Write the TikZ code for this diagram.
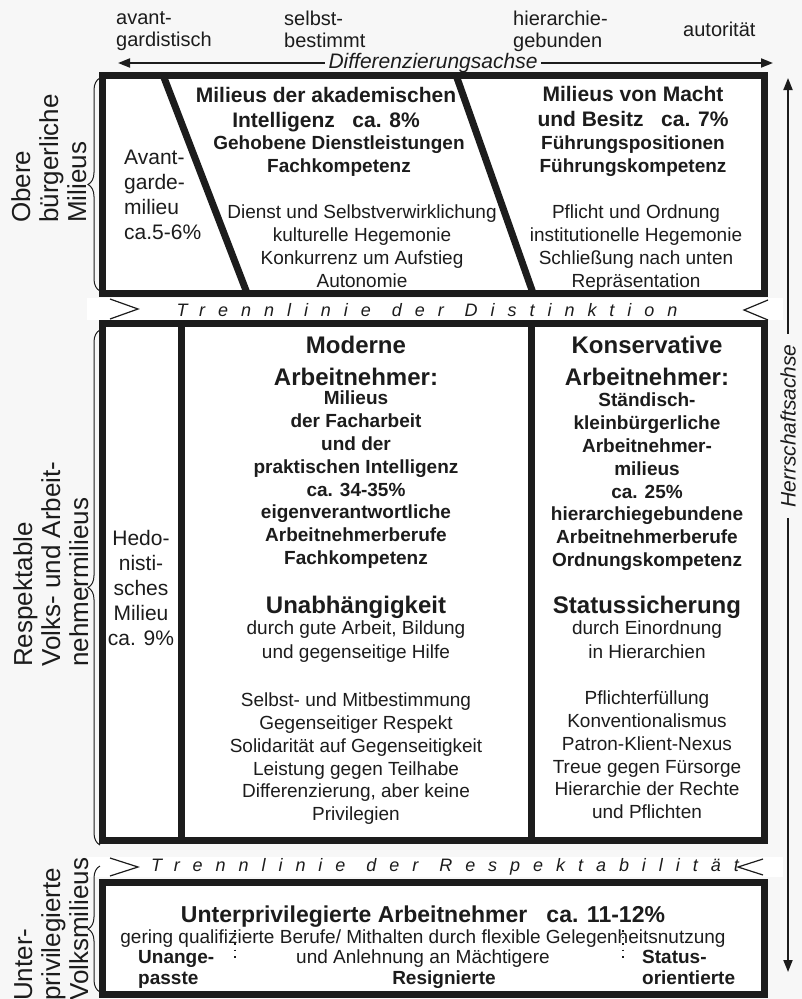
\documentclass[tikz,border=0pt]{standalone}
\usepackage{fontspec}
\setmainfont{Liberation Sans}
\newfontfamily\spacedfont[LetterSpace=72]{Liberation Sans}
\usetikzlibrary{arrows.meta,decorations.pathreplacing}

\definecolor{bggray}{RGB}{247,247,247}
\definecolor{ink}{RGB}{28,28,28}

\tikzset{
  frame/.style={draw=ink, line width=7pt, fill=white},
  divider/.style={draw=ink, line width=7pt},
  thinline/.style={draw=ink, line width=1.2pt},
  axis/.style={draw=ink, line width=1.8pt,
    {Triangle[length=12pt,width=9pt]}-{Triangle[length=12pt,width=9pt]}},
  milieubrace/.style={draw=ink, line width=1pt, decorate,
    decoration={brace, amplitude=12pt}},
  bodytext/.style={inner sep=0pt, align=center, anchor=north, text=ink,
    font=\fontsize{19}{22.7}\selectfont},
  subtext/.style={bodytext, font=\bfseries\fontsize{19}{22.8}\selectfont},
  titletext/.style={bodytext, font=\bfseries\fontsize{21}{25}\selectfont},
  bigtitle/.style={bodytext, font=\bfseries\fontsize{24}{32}\selectfont},
  toplabel/.style={inner sep=0pt, align=left, anchor=north west, text=ink,
    font=\fontsize{20}{22}\selectfont},
  sidelabel/.style={inner sep=0pt, align=left, anchor=north west, rotate=90,
    text=ink, font=\fontsize{26}{28}\selectfont},
  axislabel/.style={fill=bggray, inner ysep=1pt, inner xsep=4pt, text=ink,
    font=\itshape\fontsize{21}{21}\selectfont},
  bandtext/.style={inner sep=0pt, text=ink,
    font=\spacedfont\itshape\fontsize{18}{18}\selectfont},
}

\begin{document}
\begin{tikzpicture}[x=1pt, y=-1pt]
% page
\fill[bggray, use as bounding box] (0,0) rectangle (802,999);

% labels of the differentiation axis
\node[toplabel] (avant) at (116,11) {avant-\\gardistisch};
\node[toplabel] (selbst) at (284,11) {selbst-\\bestimmt};
\node[toplabel] (hierar) at (513,11) {hierarchie-\\gebunden};
\node[toplabel] (autor) at (683,22) {autorität};

% axes
\coordinate (dleft) at (118,63);
\coordinate (dright) at (773,63);
\draw[axis] (dleft) -- (dright);
\node[axislabel] (diff) at (433,63) {Differenzierungsachse};

\coordinate (htop) at (788,78);
\coordinate (hbot) at (788,972);
\draw[axis] (hbot) -- (htop);
\node[axislabel, rotate=90, inner xsep=10pt] (herr) at (788,426) {Herrschaftsachse};

% separating bands
\fill[white] (87,298) rectangle (783,320);
\draw[thinline] (110,299) -- (138,309) -- (110,319);
\draw[thinline] (768,300) -- (744,310) -- (768,320);
\node[bandtext] (distink) at (427,310) {Trennlinie\hspace{3pt} der\hspace{3pt} Distinktion};

\fill[white] (87,857) rectangle (783,877);
\draw[thinline] (110,858) -- (138,867) -- (110,876);
\draw[thinline] (763,859) -- (738,867) -- (763,875);
\node[bandtext] (respekt) at (445,867) {Trennlinie\hspace{3pt} der\hspace{3pt} Respektabilität};

% frames
\draw[frame] (102,75) rectangle (764,293);
\draw[divider] (163,75) -- (247,293);
\draw[divider] (456,75) -- (533,293);

\draw[frame] (102,323) rectangle (764,840);
\draw[divider] (181,323) -- (181,840);
\draw[divider] (531,323) -- (531,840);

\draw[frame] (102,882) rectangle (764,994);

% braces and side labels
\draw[milieubrace] (100,291) -- (100,78);
\draw[milieubrace] (100,845) -- (100,330);
\draw[milieubrace] (100,992) -- (100,866);

\node[sidelabel] (obere) at (11,223) {Obere\\bürgerliche\\Milieus};
\node[sidelabel] (respvolk) at (13,667) {Respektable\\Volks- und Arbeit-\\nehmermilieus};
\node[sidelabel] (untervolk) at (14,1001) {Unter-\\privilegierte\\Volksmilieus};

% upper milieus
\node[bodytext, anchor=north west, align=left, font=\fontsize{21}{25}\selectfont]
  (avantg) at (124,150) {Avant-\\garde-\\milieu\\ca.5-6\%};

\node[titletext] (akad) at (326,87) {Milieus der akademischen\\Intelligenz\ \ \ ca. 8\%};
\node[subtext] (akadsub) at (339,136) {Gehobene Dienstleistungen\\Fachkompetenz};
\node[bodytext] (akadval) at (362,205) {Dienst und Selbstverwirklichung\\kulturelle Hegemonie\\Konkurrenz um Aufstieg\\Autonomie};

\node[titletext] (macht) at (633,86) {Milieus von Macht\\und Besitz\ \ \ ca. 7\%};
\node[subtext] (machtsub) at (633,136) {Führungspositionen\\Führungskompetenz};
\node[bodytext] (machtval) at (636,205) {Pflicht und Ordnung\\institutionelle Hegemonie\\Schließung nach unten\\Repräsentation};

% respectable milieus
\node[bodytext, font=\fontsize{21}{25}\selectfont] (hedo) at (141,530) {Hedo-\\nisti-\\sches\\Milieu\\ca. 9\%};

\node[bigtitle] (modern) at (356,336) {Moderne\\Arbeitnehmer:};
\node[subtext] (modsub) at (356,391) {Milieus\\der Facharbeit\\und der\\praktischen Intelligenz\\ca. 34-35\%\\eigenverantwortliche\\Arbeitnehmerberufe\\Fachkompetenz};
\node[bigtitle] (unab) at (356,596) {Unabhängigkeit};
\node[bodytext, font=\fontsize{19}{24}\selectfont] (unabtxt) at (356,621) {durch gute Arbeit, Bildung\\und gegenseitige Hilfe};
\node[bodytext] (modval) at (356,693) {Selbst- und Mitbestimmung\\Gegenseitiger Respekt\\Solidarität auf Gegenseitigkeit\\Leistung gegen Teilhabe\\Differenzierung, aber keine\\Privilegien};

\node[bigtitle] (konserv) at (647,336) {Konservative\\Arbeitnehmer:};
\node[subtext] (konsub) at (647,393) {Ständisch-\\kleinbürgerliche\\Arbeitnehmer-\\milieus\\ca. 25\%\\hierarchiegebundene\\Arbeitnehmerberufe\\Ordnungskompetenz};
\node[bigtitle] (status) at (647,596) {Statussicherung};
\node[bodytext, font=\fontsize{19}{24}\selectfont] (statustxt) at (647,621) {durch Einordnung\\in Hierarchien};
\node[bodytext] (konval) at (647,691) {Pflichterfüllung\\Konventionalismus\\Patron-Klient-Nexus\\Treue gegen Fürsorge\\Hierarchie der Rechte\\und Pflichten};

% underprivileged milieus
\node[bodytext, font=\bfseries\fontsize{23}{23}\selectfont] (unterp) at (423,906) {Unterprivilegierte Arbeitnehmer\ \ \ ca. 11-12\%};
\node[bodytext] (gering) at (423,930) {gering qualifizierte Berufe/ Mithalten durch flexible Gelegenheitsnutzung};
\node[bodytext] (anlehn) at (423,950) {und Anlehnung an Mächtigere};
\node[subtext, anchor=north west, align=left, font=\bfseries\fontsize{19}{21}\selectfont] (unange) at (138,950) {Unange-\\passte};
\node[subtext] (resign) at (444,971) {Resignierte};
\node[subtext, anchor=north west, align=left, font=\bfseries\fontsize{19}{21}\selectfont] (statusor) at (642,950) {Status-\\orientierte};

\draw[ink, line width=1.5pt, dash pattern=on 1.5pt off 5pt] (235,930) -- (235,962);
\draw[ink, line width=1.5pt, dash pattern=on 1.5pt off 5pt] (623,930) -- (623,962);
\end{tikzpicture}
\end{document}
